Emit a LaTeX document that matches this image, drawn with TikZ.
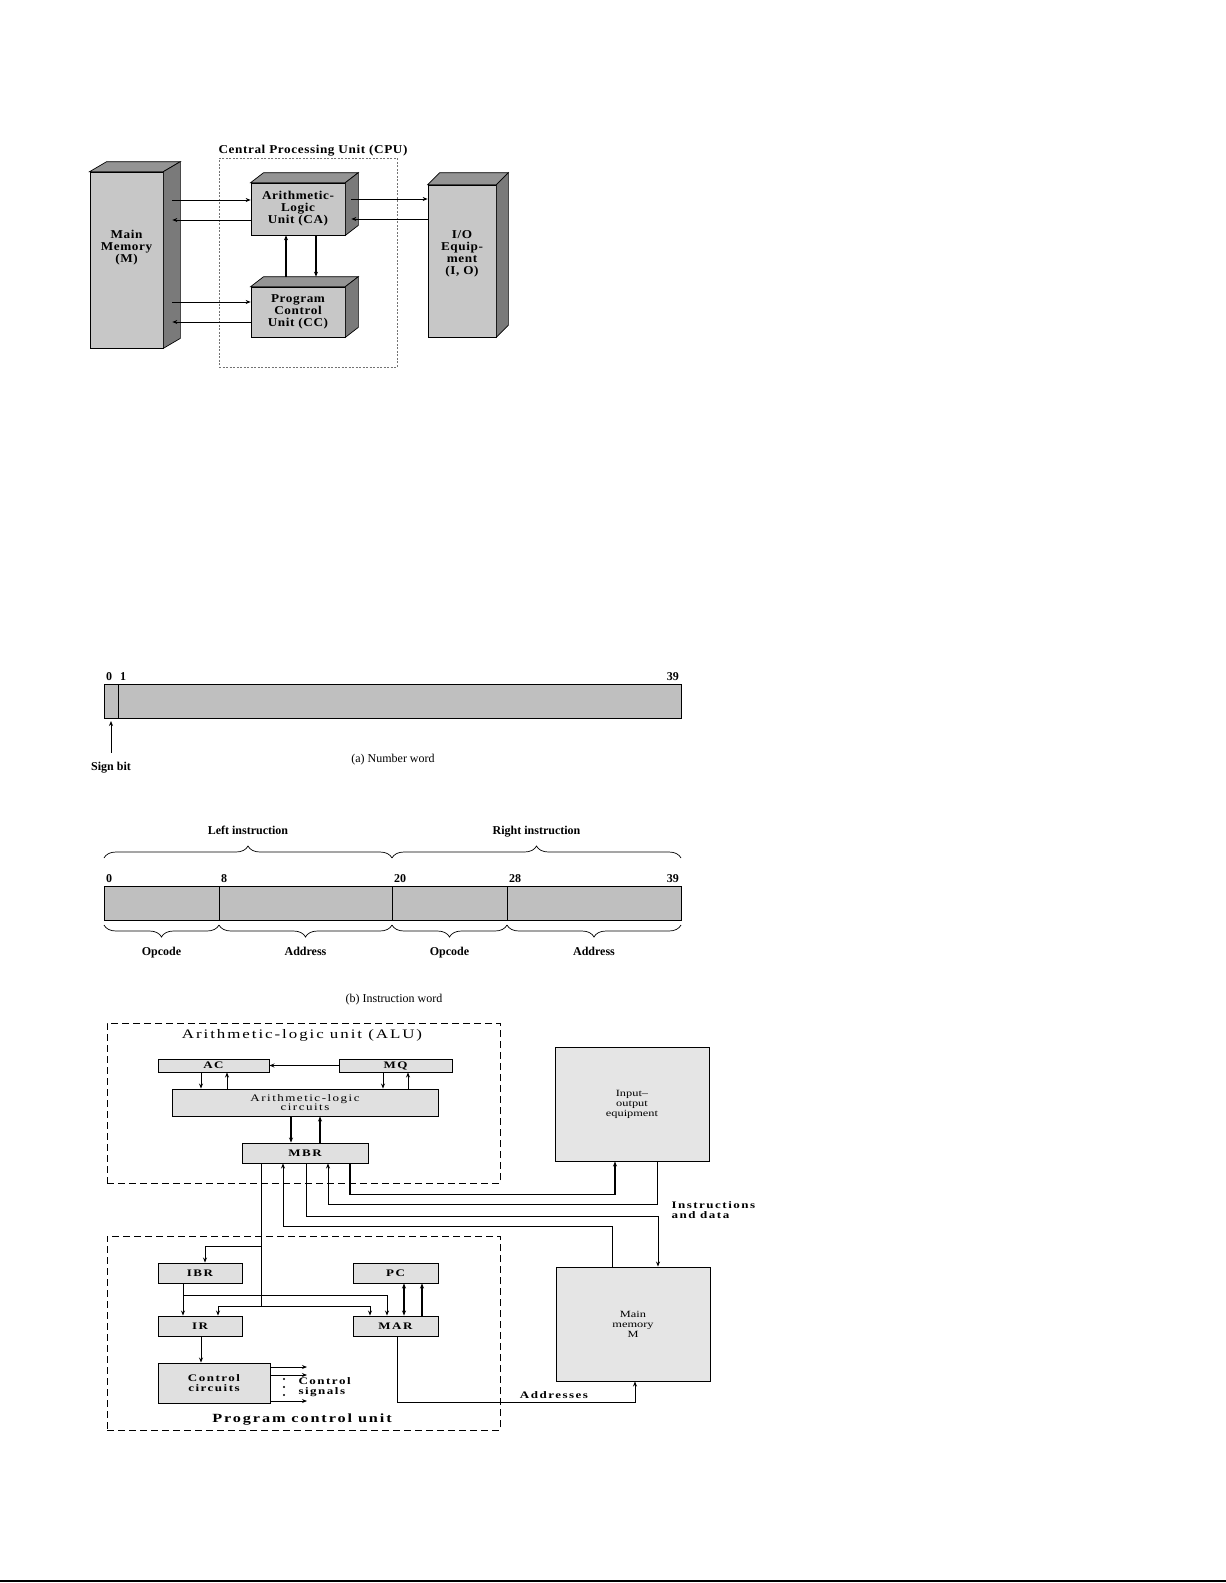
\documentclass[tikz,border=0pt]{standalone}
\usepackage{fontspec}
\setmainfont{Liberation Serif}
\newfontfamily\cubefont[FakeStretch=1.1, LetterSpace=5]{Liberation Serif}
\newfontfamily\widefont[FakeStretch=1.3, LetterSpace=15]{Liberation Serif}
\newfontfamily\loosefont[FakeStretch=1.3]{Liberation Serif}
\newfontfamily\titlefont[FakeStretch=1.3, LetterSpace=15]{Liberation Serif}
\usetikzlibrary{positioning,arrows.meta,decorations.pathreplacing}

% depth faces of a solid box: node name, dx, dy
\newcommand{\cubedepth}[3]{%
  \path[cubetop] (#1.north west) -- ++(#2,-#3) -- ([shift={(#2,-#3)}]#1.north east) -- (#1.north east) -- cycle;
  \path[cubeside] (#1.north east) -- ([shift={(#2,-#3)}]#1.north east) -- ([shift={(#2,-#3)}]#1.south east) -- (#1.south east) -- cycle;
}

\tikzset{
  >={Stealth[length=5pt,width=4pt]},
  cube/.style={draw, line width=0.7pt, fill=black!22, inner sep=0pt, align=center,
               font=\cubefont\bfseries\fontsize{12}{12}\selectfont},
  cubetop/.style={draw, line width=0.7pt, fill=black!42},
  cubeside/.style={draw, line width=0.7pt, fill=black!52},
  cubetext/.style={font=\cubefont\bfseries\fontsize{12}{12}\selectfont, align=center},
  flow/.style={line width=0.8pt},
  cpubox/.style={draw=black!55, line width=0.7pt, dash pattern=on 2pt off 1.5pt},
  cell/.style={draw, line width=0.9pt, fill=black!25, minimum height=34, inner sep=0pt, outer sep=0pt},
  bitno/.style={font=\bfseries\fontsize{12}{12}\selectfont, inner xsep=2pt, inner ysep=3pt,
                text height=8pt, text depth=0pt},
  field/.style={font=\bfseries\fontsize{12}{12}\selectfont, text height=9pt, text depth=2.5pt},
  caption/.style={font=\fontsize{12}{12}\selectfont},
  brace/.style={decorate, decoration={brace, amplitude=12pt}, line width=0.7pt},
  lowbrace/.style={brace, decoration={mirror}},
  unitbox/.style={draw, line width=1pt, dash pattern=on 7pt off 4pt},
  unittitle/.style={font=\titlefont\fontsize{13}{13}\selectfont},
  reg/.style={draw, line width=0.9pt, fill=black!12, inner sep=1pt, align=center,
              font=\widefont\bfseries\fontsize{10}{10}\selectfont},
  bigbox/.style={draw, line width=0.9pt, fill=black!10, align=center,
                 font=\loosefont\fontsize{9.5}{10}\selectfont},
  wire/.style={line width=0.9pt},
  thickwire/.style={line width=1.6pt},
  note/.style={font=\widefont\bfseries\fontsize{10}{10}\selectfont, align=left},
}

\begin{document}
\begin{tikzpicture}[x=1pt, y=-1pt]
  \useasboundingbox (0,0) rectangle (1226,1583);

  % ---------- CPU organisation ----------
  \node[cpubox, minimum width=178, minimum height=209] (cpu) at (308,262.5) {};
  \node[cubetext] (cputitle) at (313,151) {Central Processing Unit (CPU)};

  \node[cube, minimum width=73, minimum height=176] (mm) at (126.5,260) {};
  \node[cube, minimum width=94, minimum height=52] (alu) at (298,209) {Arithmetic-\\Logic\\Unit (CA)};
  \node[cube, minimum width=94, minimum height=50] (pcu) at (298,312) {Program\\Control\\Unit (CC)};
  \node[cube, minimum width=68, minimum height=152] (io) at (462,261) {};
  \cubedepth{mm}{17}{10}
  \cubedepth{alu}{13}{10}
  \cubedepth{pcu}{13}{10}
  \cubedepth{io}{12}{12}
  \node[cubetext] (mmtext) at ([yshift=12pt]mm.center) {Main\\Memory\\(M)};
  \node[cubetext] (iotext) at ([yshift=7pt]io.center) {I/O\\Equip-\\ment\\(I, O)};

  \coordinate (mmside) at ([xshift=9pt]mm.east);
  \coordinate (aluside) at ([xshift=6pt]alu.east);
  \coordinate (aluin) at ([yshift=9pt]alu.west);
  \coordinate (aluout) at ([yshift=-11pt]alu.west);
  \coordinate (pcuin) at ([yshift=10pt]pcu.west);
  \coordinate (pcuout) at ([yshift=-10pt]pcu.west);
  \coordinate (ioin) at ([yshift=62pt]io.west);
  \coordinate (ioout) at ([yshift=42pt]io.west);
  \coordinate (pcutop) at ([yshift=10pt]pcu.north);

  \draw [->, flow] (mmside |- aluin) -- (aluin);
  \draw [->, flow] (aluout) -- (mmside |- aluout);
  \draw [->, flow] (mmside |- pcuin) -- (pcuin);
  \draw [->, flow] (pcuout) -- (mmside |- pcuout);
  \draw [->, flow] (aluside |- ioin) -- (ioin);
  \draw [->, flow] (ioout) -- (aluside |- ioout);
  \draw [->, line width=1.2pt] ([xshift=-12pt]pcutop) -- ([xshift=-12pt]alu.south);
  \draw [->, line width=1.2pt] ([xshift=18pt]alu.south) -- ([xshift=18pt]pcutop);

  % ---------- (a) number word ----------
  \node[cell, minimum width=14, anchor=north west] (sign) at (104,684) {};
  \node[cell, minimum width=563, right=0pt of sign] (mag) {};
  \node[bitno, anchor=south west] (n0) at (sign.north west) {0};
  \node[bitno, anchor=south west] (n1) at (mag.north west) {1};
  \node[bitno, anchor=south east] (n39) at (mag.north east) {39};
  \node[field] (signbit) at (111,767) {Sign bit};
  \draw [->, flow] ([yshift=5pt]signbit.north) -- ([yshift=-3pt]sign.south);
  \node[caption] (numcap) at (393,760) {(a) Number word};

  % ---------- (b) instruction word ----------
  \node[cell, minimum width=115, anchor=north west] (op1) at (104,886) {};
  \node[cell, minimum width=173, right=0pt of op1] (ad1) {};
  \node[cell, minimum width=115, right=0pt of ad1] (op2) {};
  \node[cell, minimum width=174, right=0pt of op2] (ad2) {};
  \node[bitno, anchor=south west] (m0) at (op1.north west) {0};
  \node[bitno, anchor=south west] (m8) at (ad1.north west) {8};
  \node[bitno, anchor=south west] (m20) at (op2.north west) {20};
  \node[bitno, anchor=south west] (m28) at (ad2.north west) {28};
  \node[bitno, anchor=south east] (m39) at (ad2.north east) {39};

  \draw [brace] ([yshift=28pt]op1.north west) -- ([yshift=28pt]ad1.north east)
        node [field, midway, above=17pt] {Left instruction};
  \draw [brace] ([yshift=28pt]op2.north west) -- ([yshift=28pt]ad2.north east)
        node [field, midway, above=17pt] {Right instruction};
  \draw [lowbrace] ([yshift=-5pt]op1.south west) -- ([yshift=-5pt]op1.south east)
        node [field, midway, below=18pt] {Opcode};
  \draw [lowbrace] ([yshift=-5pt]ad1.south west) -- ([yshift=-5pt]ad1.south east)
        node [field, midway, below=18pt] {Address};
  \draw [lowbrace] ([yshift=-5pt]op2.south west) -- ([yshift=-5pt]op2.south east)
        node [field, midway, below=18pt] {Opcode};
  \draw [lowbrace] ([yshift=-5pt]ad2.south west) -- ([yshift=-5pt]ad2.south east)
        node [field, midway, below=18pt] {Address};
  \node[caption] (inscap) at (394,1000) {(b) Instruction word};

  % ---------- IAS structure ----------
  \node[unitbox, minimum width=393, minimum height=160] (alubox) at (303.5,1103) {};
  \node[unittitle] (alutitle) at (302,1035) {Arithmetic-logic unit (ALU)};
  \node[reg, minimum width=111, minimum height=13] (ac) at (213.5,1065.5) {AC};
  \node[reg, minimum width=113, minimum height=13] (mq) at (395.5,1065.5) {MQ};
  \node[reg, minimum width=266, minimum height=27, font=\widefont\fontsize{10}{9.5}\selectfont] (alc) at (305,1102.5) {Arithmetic-logic\\circuits};
  \node[reg, minimum width=126, minimum height=20] (mbr) at (305,1153) {MBR};

  \node[unitbox, minimum width=393, minimum height=194] (pcubox) at (303.5,1333) {};
  \node[unittitle, font=\titlefont\bfseries\fontsize{12.5}{12.5}\selectfont] (pcutitle) at (302,1420) {Program control unit};
  \node[reg, minimum width=84, minimum height=20] (ibr) at (200,1273) {IBR};
  \node[reg, minimum width=85, minimum height=20] (pc) at (395.5,1273) {PC};
  \node[reg, minimum width=84, minimum height=20] (ir) at (200,1326) {IR};
  \node[reg, minimum width=85, minimum height=20] (mar) at (395.5,1326) {MAR};
  \node[reg, minimum width=112, minimum height=40] (cc) at (214,1383) {Control\\circuits};

  \node[bigbox, minimum width=154, minimum height=114] (iobox) at (632,1104) {Input\textendash\\output\\equipment};
  \node[bigbox, minimum width=154, minimum height=114] (mem) at (633,1324) {Main\\memory\\M};

  % inside the ALU
  \draw [->, wire] (mq.west) -- (ac.east);
  \draw [->, wire] ([xshift=-12.5pt]ac.south) -- ([xshift=-104pt]alc.north);
  \draw [->, wire] ([xshift=-78pt]alc.north) -- ([xshift=13.5pt]ac.south);
  \draw [->, wire] ([xshift=-12.5pt]mq.south) -- ([xshift=78pt]alc.north);
  \draw [->, wire] ([xshift=103pt]alc.north) -- ([xshift=12.5pt]mq.south);
  \draw [->, thickwire] ([xshift=-14pt]alc.south) -- ([xshift=-14pt]mbr.north);
  \draw [->, thickwire] ([xshift=15pt]mbr.north) -- ([xshift=15pt]alc.south);

  % MBR to and from I/O and memory
  \draw [->, thickwire] ([xshift=45pt]mbr.south) -- ++(0,31) -| ([xshift=-17pt]iobox.south);
  \draw [->, wire] ([xshift=25pt]iobox.south) -- ++(0,43) -| ([xshift=23pt]mbr.south);
  \draw [->, wire] ([xshift=1pt]mbr.south) -- ++(0,53) -| ([xshift=25pt]mem.north);
  \draw [->, wire] ([xshift=-21pt]mem.north) -- ++(0,-40) -| ([xshift=-22pt]mbr.south);
  \node[note] (insdata) [anchor=west] at (668,1210) {Instructions\\and data};

  % MBR into the program control unit
  \coordinate (mbrtap) at ([xshift=-44pt]mbr.south);
  \coordinate (ibrjoin) at (261,1246);
  \coordinate (busjoin) at (261,1306);
  \draw [wire] (mbrtap) -- (busjoin);
  \draw [->, wire] (ibrjoin) -| ([xshift=5pt]ibr.north);
  \draw [->, wire] (busjoin) -| ([xshift=18pt]ir.north);
  \draw [->, wire] (busjoin) -| ([xshift=-25.5pt]mar.north);
  \draw [->, wire] ([xshift=-17pt]ibr.south) -- ([xshift=-17pt]ir.north);
  \draw [->, wire] ([xshift=-17pt]ibr.south) -- ++(0,12) -| ([xshift=-8.5pt]mar.north);
  \draw [<->, thickwire] ([xshift=8.5pt]mar.north) -- ([xshift=8.5pt]pc.south);
  \draw [->, thickwire] ([xshift=26.5pt]mar.north) -- ([xshift=26.5pt]pc.south);
  \draw [->, wire] ([xshift=1pt]ir.south) -- ([xshift=-13pt]cc.north);

  % control signals
  \coordinate (sig1) at (307,1367);
  \coordinate (sig2) at (307,1375);
  \coordinate (sig3) at (307,1401);
  \draw [->, wire] (cc.east |- sig1) -- (sig1);
  \draw [->, wire] (cc.east |- sig2) -- (sig2);
  \draw [->, wire] (cc.east |- sig3) -- (sig3);
  \foreach \y in {1379,1387,1395}
    \fill (284,\y) circle (1.1pt);
  \node[note] (ctrlsig) [anchor=west] at (295,1387) {Control\\signals};

  % addresses to memory
  \draw [->, wire] ([xshift=1.5pt]mar.south) -- ++(0,66) -| ([xshift=2pt]mem.south);
  \node[note] (addr) at (554,1395) {Addresses};

  % page edge
  \draw [line width=1.5pt] (0,1581) -- (1226,1581);
\end{tikzpicture}
\end{document}
